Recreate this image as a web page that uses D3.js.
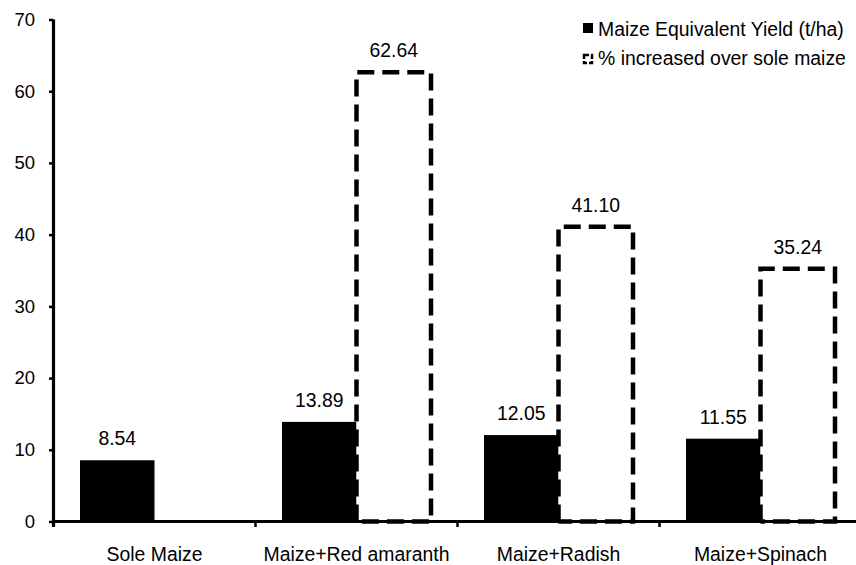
<!DOCTYPE html>
<html>
<head>
<meta charset="utf-8">
<script src="https://cdn.jsdelivr.net/npm/d3@7"></script>
<style>
  html, body { margin: 0; padding: 0; background: #fff; }
  svg { display: block; font-family: "Liberation Sans", Arial, sans-serif; }
</style>
</head>
<body>
<div id="chart"></div>
<script>
// Data
const categories = ["Sole Maize", "Maize+Red amaranth", "Maize+Radish", "Maize+Spinach"];
const yieldValues = [8.54, 13.89, 12.05, 11.55];
const increaseValues = [null, 62.64, 41.10, 35.24];
const seriesNames = ["Maize Equivalent Yield (t/ha)", "% increased over sole maize"];
const yTicks = [0, 10, 20, 30, 40, 50, 60, 70];

// Configuration
const width = 856;
const height = 565;
const margin = {top: 19.5, right: -5.5, bottom: 43.5, left: 53.5};
const fontSize = 19.4;
const tickFontSize = 18.5;

const svg = d3.select("#chart").append("svg")
  .attr("width", width)
  .attr("height", height);

const innerW = width - margin.left - margin.right;
const innerH = height - margin.top - margin.bottom;

const g = svg.append("g")
  .attr("transform", `translate(${margin.left},${margin.top})`);

// Scales
const x = d3.scaleBand()
  .domain(categories)
  .range([0, innerW])
  .padding(0);

const xSeries = d3.scaleBand()
  .domain([0, 1])
  .range([26.5, x.bandwidth() - 26.5])
  .padding(0);

const y = d3.scaleLinear()
  .domain([0, 70])
  .range([innerH, 0]);

// Rows built from the arrays
const rows = categories.map((c, i) => ({
  cat: c,
  yield: yieldValues[i],
  inc: increaseValues[i]
}));

// Solid bars - maize equivalent yield
g.append("g").selectAll("rect")
  .data(rows)
  .join("rect")
    .attr("x", d => x(d.cat) + xSeries(0))
    .attr("y", d => y(d.yield))
    .attr("width", xSeries.bandwidth())
    .attr("height", d => y(0) - y(d.yield))
    .attr("fill", "#000");

// Dashed outline bars - % increase
const incRows = rows.filter(d => d.inc != null);
const dashG = g.append("g");
dashG.selectAll("rect.fill")
  .data(incRows)
  .join("rect")
    .attr("class", "fill")
    .attr("x", d => x(d.cat) + xSeries(1))
    .attr("y", d => y(d.inc))
    .attr("width", xSeries.bandwidth())
    .attr("height", d => y(0) - y(d.inc))
    .attr("fill", "#fff");
dashG.selectAll("path")
  .data(incRows)
  .join("path")
    .attr("d", d => {
      const x0 = x(d.cat) + xSeries(1);
      const x1 = x0 + xSeries.bandwidth();
      return `M${x0},${y(0)} V${y(d.inc)} H${x1} V${y(0)} H${x0}`;
    })
    .attr("fill", "none")
    .attr("stroke", "#000")
    .attr("stroke-width", 4.5)
    .attr("stroke-dasharray", "17,8");

// Value labels
g.append("g").selectAll("text")
  .data(rows)
  .join("text")
    .attr("x", d => x(d.cat) + xSeries(0) + xSeries.bandwidth() / 2)
    .attr("y", d => y(d.yield) - 15)
    .attr("text-anchor", "middle")
    .style("font-size", fontSize + "px")
    .text(d => d3.format(".2f")(d.yield));

g.append("g").selectAll("text")
  .data(incRows)
  .join("text")
    .attr("x", d => x(d.cat) + xSeries(1) + xSeries.bandwidth() / 2)
    .attr("y", d => y(d.inc) - 15)
    .attr("text-anchor", "middle")
    .style("font-size", fontSize + "px")
    .text(d => d3.format(".2f")(d.inc));

// Y axis
const yAxis = g.append("g")
  .call(d3.axisLeft(y).tickValues(yTicks).tickSize(4.5).tickPadding(14).tickSizeOuter(0));
yAxis.select(".domain").attr("stroke-width", 3.2).attr("d", `M0,${innerH + 5.5}V0`);
yAxis.selectAll(".tick line").attr("stroke-width", 2.5);
yAxis.selectAll(".tick text")
  .style("font-size", tickFontSize + "px")
  .style("font-family", "Liberation Sans, Arial, sans-serif")
  .attr("fill", "#000");

// X axis
const xAxis = g.append("g")
  .attr("transform", `translate(0,${innerH})`)
  .call(d3.axisBottom(x).tickSize(0).tickPadding(25.5).tickSizeOuter(0));
xAxis.select(".domain").attr("stroke-width", 3.2).attr("d", `M-1.5,0H${innerW}`);
xAxis.selectAll(".tick text")
  .style("font-size", fontSize + "px")
  .style("font-family", "Liberation Sans, Arial, sans-serif")
  .attr("fill", "#000");

// Category boundary ticks
xAxis.append("g").selectAll("line")
  .data(categories.slice(1))
  .join("line")
    .attr("x1", d => x(d))
    .attr("x2", d => x(d))
    .attr("y1", 0)
    .attr("y2", 5.5)
    .attr("stroke", "#000")
    .attr("stroke-width", 2.5);

// Legend
const legend = svg.append("g").attr("transform", "translate(583,0)");
legend.append("rect")
  .attr("x", 0).attr("y", 23)
  .attr("width", 10).attr("height", 10)
  .attr("fill", "#000");
legend.append("rect")
  .attr("x", 1).attr("y", 55)
  .attr("width", 8).attr("height", 8)
  .attr("fill", "#fff")
  .attr("stroke", "#000")
  .attr("stroke-width", 2.5)
  .attr("stroke-dasharray", "5,2");
legend.selectAll("text.lbl")
  .data(seriesNames)
  .join("text")
    .attr("class", "lbl")
    .attr("x", 15)
    .attr("y", (d, i) => 36 + i * 29)
    .style("font-size", fontSize + "px")
    .text(d => d);
</script>
</body>
</html>
